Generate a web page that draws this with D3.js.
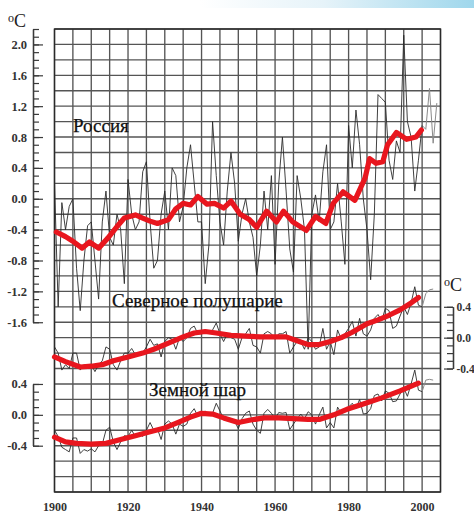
<!DOCTYPE html>
<html><head><meta charset="utf-8">
<script src="https://cdn.jsdelivr.net/npm/d3@7"></script>
<style>
html,body{margin:0;padding:0;background:#fff;}
svg{display:block;font-family:"Liberation Serif","Times New Roman",serif;}
</style></head>
<body>
<svg id="chart" width="474" height="525"></svg>
<script>
// ---------- DATA ----------
const firstYear = 1900;
// Russia annual anomalies (°C), 1900..2004
const russiaAnnual = [0.2,-1.4,-0.05,-0.4,-0.1,0.0,-0.9,-1.45,-0.8,-0.35,
  -0.3,-0.8,-1.3,-0.3,0.1,-0.5,-0.6,-0.2,-0.4,-1.1,
  0.25,-0.2,-0.4,-0.3,0.35,0.48,-0.3,-0.9,-0.8,-0.2,
  0.1,-0.4,0.4,0.3,-0.3,-0.1,0.4,0.7,0.2,-0.3,
  -0.3,-1.1,-0.6,1.0,0.3,-0.3,-0.6,0.1,0.6,0.2,
  -0.55,-0.2,0.0,-0.3,-0.5,-1.0,-0.6,0.1,-0.4,0.3,
  -0.85,0.2,0.8,0.1,-0.65,-0.95,0.3,0.0,-0.4,-1.95,
  -0.2,0.05,-0.3,0.35,0.7,-0.4,-0.3,0.2,-0.3,-0.85,
  0.95,0.4,1.15,0.7,0.0,-0.4,-1.05,-0.2,1.35,1.3,
  1.25,0.5,0.25,0.75,0.6,2.12,1.0,0.8,0.1,0.5,
  0.95,0.9,1.43,0.72,1.24];
// Russia smoothed (red)
const russiaSmoothYears = [1900.5,1903,1905,1907.5,1909.5,1912,1914.5,1917,1919,1922,1924,1926,1928,1931,1933,1935,1937,1939,1941.5,1943.5,1946,1948,1950.5,1953,1955,1957.7,1960.4,1962.3,1964.8,1968.5,1971,1973.8,1975.8,1978.5,1981.7,1984.5,1985.7,1987.5,1989.3,1990.6,1993,1995.8,1998.3,1999.8];
const russiaSmooth = [-0.43,-0.49,-0.55,-0.64,-0.56,-0.64,-0.51,-0.36,-0.25,-0.21,-0.25,-0.29,-0.32,-0.27,-0.13,-0.06,-0.08,0.03,-0.07,-0.06,-0.12,-0.03,-0.2,-0.27,-0.37,-0.16,-0.3,-0.16,-0.3,-0.41,-0.23,-0.32,-0.06,0.09,-0.02,0.27,0.52,0.46,0.48,0.7,0.86,0.77,0.8,0.89];

// Northern hemisphere annual, 1900..2003
const nhAnnual = [-0.12,-0.2,-0.42,-0.35,-0.4,-0.2,-0.2,-0.42,-0.35,-0.38,
  -0.35,-0.44,-0.35,-0.3,-0.12,-0.15,-0.35,-0.42,-0.3,-0.2,
  -0.2,-0.14,-0.22,-0.2,-0.2,-0.12,-0.02,-0.1,-0.08,-0.25,
  -0.05,0.0,-0.02,-0.15,0.0,-0.05,0.0,0.12,0.15,0.05,
  0.05,0.1,0.05,0.1,0.19,0.05,-0.05,0.05,0.0,-0.02,
  -0.15,0.0,0.05,0.12,-0.1,-0.12,-0.2,0.05,0.08,0.05,
  -0.02,0.05,0.05,0.08,-0.2,-0.12,-0.05,-0.05,-0.15,0.0,
  -0.05,-0.15,-0.12,0.12,-0.15,-0.05,-0.22,0.1,-0.02,0.05,
  0.12,0.21,0.02,0.25,0.05,0.02,0.1,0.25,0.3,0.22,
  0.38,0.35,0.12,0.15,0.28,0.4,0.3,0.45,0.66,0.42,
  0.4,0.57,0.62,0.63];
const nhSmoothYears = [1900,1903,1907,1910,1913,1916,1920,1924,1927,1931,1935,1938,1941,1944,1948,1952,1956,1960,1963,1966,1969,1972,1975,1978,1981,1985,1988,1991,1994,1997,1999];
const nhSmooth = [-0.25,-0.31,-0.38,-0.37,-0.35,-0.3,-0.25,-0.2,-0.15,-0.07,0.01,0.06,0.08,0.06,0.03,0.02,0.01,0.01,0.01,-0.04,-0.09,-0.09,-0.05,0.0,0.07,0.18,0.23,0.29,0.36,0.45,0.52];

// Global annual, 1900..2003
const globalAnnual = [-0.2,-0.28,-0.42,-0.45,-0.48,-0.3,-0.3,-0.5,-0.45,-0.47,
  -0.44,-0.48,-0.4,-0.38,-0.2,-0.16,-0.35,-0.45,-0.35,-0.27,
  -0.28,-0.2,-0.28,-0.25,-0.28,-0.2,-0.1,-0.2,-0.18,-0.32,
  -0.12,-0.08,-0.12,-0.25,-0.12,-0.15,-0.12,0.02,0.08,-0.02,
  0.02,0.05,0.0,0.02,0.15,0.05,-0.05,-0.05,-0.05,-0.08,
  -0.18,-0.05,0.02,0.05,-0.12,-0.2,-0.24,0.02,0.07,0.02,
  -0.05,0.03,0.02,0.03,-0.19,-0.12,-0.05,0.01,-0.05,0.04,
  0.0,-0.12,0.0,0.1,-0.17,-0.1,-0.17,0.1,0.02,0.06,
  0.1,0.15,0.08,0.2,0.01,0.02,0.08,0.25,0.27,0.18,
  0.31,0.28,0.17,0.18,0.27,0.35,0.24,0.4,0.58,0.32,
  0.3,0.45,0.46,0.45];
const globalSmoothYears = [1900,1903,1906,1910,1914,1918,1922,1926,1930,1933,1937,1940,1943,1946,1950,1953,1957,1961,1965,1969,1972,1976,1980,1984,1989,1994,1999];
const globalSmooth = [-0.29,-0.35,-0.37,-0.38,-0.37,-0.32,-0.27,-0.22,-0.17,-0.11,-0.03,0.02,0.01,-0.04,-0.1,-0.07,-0.04,-0.04,-0.05,-0.06,-0.06,0.0,0.08,0.14,0.22,0.31,0.41];

const yearTicks = [1900,1920,1940,1960,1980,2000];
const russiaTickLabels = [2.0,1.6,1.2,0.8,0.4,0.0,-0.4,-0.8,-1.2,-1.6];
const smallTickLabels = [0.4,0.0,-0.4];
const seriesNames = ["Россия","Северное полушарие","Земной шар"];
const unitLabel = "C";

// ---------- LAYOUT ----------
const svg = d3.select("#chart");
const plot = {left:54.5, right:440.5, top:29, bottom:492};
const x = d3.scaleLinear().domain([1900,2005]).range([plot.left, plot.right]);
const yR = d3.scaleLinear().domain([-3.8,2.2]).range([plot.bottom, plot.top]);
const yN = d3.scaleLinear().domain([-2.0,4.0]).range([plot.bottom, plot.top]);
const yG = d3.scaleLinear().domain([-1.0,5.0]).range([plot.bottom, plot.top]);

// top decorative band
const defs = svg.append("defs");
const grad = defs.append("linearGradient").attr("id","band").attr("x1","0").attr("x2","1").attr("y1","0").attr("y2","0");
grad.append("stop").attr("offset","0").attr("stop-color","#ffffff");
grad.append("stop").attr("offset","0.45").attr("stop-color","#e6f3f9");
grad.append("stop").attr("offset","1").attr("stop-color","#9fd7ec");
svg.append("rect").attr("x",200).attr("y",0).attr("width",274).attr("height",8).attr("fill","url(#band)");

// grid
const gridYears = d3.range(1900, 2006, 5);
const gridVals = d3.range(0, 31).map(i => 2.2 - i*0.2);
const g = svg.append("g");
g.selectAll("line.v").data(gridYears).join("line")
  .attr("x1", d=>x(d)).attr("x2", d=>x(d)).attr("y1", plot.top).attr("y2", plot.bottom)
  .attr("stroke","#555").attr("stroke-width",1.35);
g.selectAll("line.h").data(gridVals).join("line")
  .attr("x1", plot.left).attr("x2", plot.right).attr("y1", d=>yR(d)).attr("y2", d=>yR(d))
  .attr("stroke","#555").attr("stroke-width",1.35);
svg.append("rect").attr("x",plot.left).attr("y",plot.top).attr("width",plot.right-plot.left).attr("height",plot.bottom-plot.top)
  .attr("fill","none").attr("stroke","#2a2a2a").attr("stroke-width",1.4);

// axes
function styleAxis(sel){
  sel.selectAll("path").attr("stroke","#3a3a3a").attr("stroke-width",1.3);
  sel.selectAll("line").attr("stroke","#3a3a3a").attr("stroke-width",1.2);
  sel.selectAll("text").attr("font-family","Liberation Serif, serif").attr("font-weight","bold").attr("font-size",12.5).attr("fill","#333");
}
function minorTicks(lo, hi){ return d3.range(Math.round(lo*10), Math.round(hi*10)+1).map(k=>k/10); }
const fmt = d => d3.format(".1f")(d).replace("−","-");

// Russia axis (left)
const yRa = yR.copy().domain([-1.6,2.2]).range([yR(-1.6), yR(2.2)]);
const axR1 = svg.append("g").attr("transform","translate(33,0)")
  .call(d3.axisLeft(yRa).tickValues(minorTicks(-1.6,2.2)).tickSize(-6).tickSizeOuter(0).tickFormat(""));
const axR2 = svg.append("g").attr("transform","translate(33,0)")
  .call(d3.axisLeft(yRa).tickValues(russiaTickLabels).tickSize(-10).tickSizeOuter(0).tickPadding(6).tickFormat(fmt));
styleAxis(axR1); styleAxis(axR2);

// Global axis (left)
const yGa = yG.copy().domain([-0.4,0.4]).range([yG(-0.4), yG(0.4)]);
const axG1 = svg.append("g").attr("transform","translate(33,0)")
  .call(d3.axisLeft(yGa).tickValues(minorTicks(-0.4,0.4)).tickSize(-6).tickSizeOuter(0).tickFormat(""));
const axG2 = svg.append("g").attr("transform","translate(33,0)")
  .call(d3.axisLeft(yGa).tickValues(smallTickLabels).tickSize(-10).tickSizeOuter(0).tickPadding(6).tickFormat(fmt));
styleAxis(axG1); styleAxis(axG2);

// NH axis (right)
const yNa = yN.copy().domain([-0.4,0.4]).range([yN(-0.4), yN(0.4)]);
const axN1 = svg.append("g").attr("transform","translate(453,0)")
  .call(d3.axisRight(yNa).tickValues(minorTicks(-0.4,0.4)).tickSize(-6).tickSizeOuter(0).tickFormat(""));
const axN2 = svg.append("g").attr("transform","translate(453,0)")
  .call(d3.axisRight(yNa).tickValues(smallTickLabels).tickSize(-9).tickSizeOuter(0).tickPadding(4).tickFormat(fmt));
styleAxis(axN1); styleAxis(axN2);
axN2.selectAll("text").attr("x",3.5).attr("font-size",11.5);

// X axis labels
const axX = svg.append("g").attr("transform",`translate(0,${plot.bottom})`)
  .call(d3.axisBottom(x).tickValues(yearTicks).tickSize(0).tickPadding(10).tickFormat(d3.format("d")));
axX.select("path").remove();
styleAxis(axX);
axX.selectAll("text").attr("font-size",12);

// unit labels
function unit(xp, yp){
  const t = svg.append("text").attr("x",xp).attr("y",yp).attr("font-family","Liberation Serif, serif").attr("fill","#222");
  t.append("tspan").attr("font-size",12).attr("dy",-5).text("o");
  t.append("tspan").attr("font-size",18).attr("dy",5).text(unitLabel);
}
unit(8, 27);
unit(444, 291);

// series
function drawSeries(vals, ys, smoothYears, smoothVals){
  const pts = vals.map((v,i)=>[firstYear+i, v]);
  const line = d3.line().x(d=>x(d[0])).y(d=>ys(d[1]));
  const main = pts.filter(d=>d[0] <= 2000);
  const tail = pts.filter(d=>d[0] >= 2000);
  svg.append("path").attr("d", line(tail)).attr("fill","none").attr("stroke","#8a8a8a").attr("stroke-width",1);
  svg.append("path").attr("d", line(main)).attr("fill","none").attr("stroke","#2b2b2b").attr("stroke-width",0.9).attr("stroke-linejoin","round");
  const sm = smoothYears.map((yr,i)=>[yr, smoothVals[i]]);
  svg.append("path").attr("d", line(sm)).attr("fill","none").attr("stroke","#e8161e").attr("stroke-width",5.2)
    .attr("stroke-linejoin","round").attr("stroke-linecap","round");
}
drawSeries(russiaAnnual, yR, russiaSmoothYears, russiaSmooth);
drawSeries(nhAnnual, yN, nhSmoothYears, nhSmooth);
drawSeries(globalAnnual, yG, globalSmoothYears, globalSmooth);

// series names
const namePos = [[73,132],[112,307],[149,396]];
seriesNames.forEach((n,i)=>{
  svg.append("text").attr("x",namePos[i][0]).attr("y",namePos[i][1])
    .attr("font-family","Liberation Serif, serif").attr("font-size",19).attr("fill","#111")
    .attr("stroke","#111").attr("stroke-width",0.25).text(n);
});
</script>
</body></html>
